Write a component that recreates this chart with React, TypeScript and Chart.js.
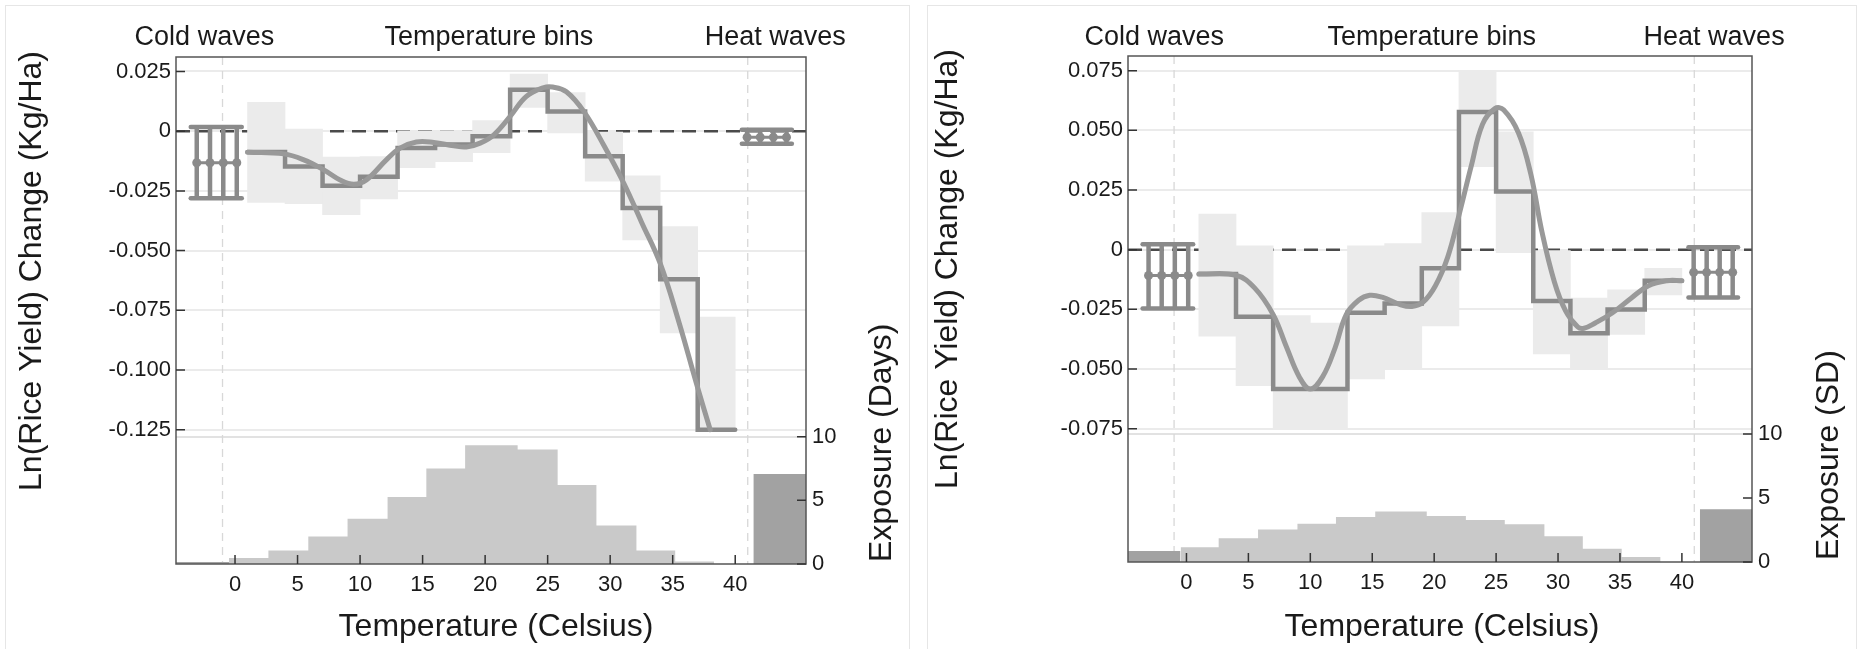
import React, { useEffect, useRef } from "react";
import { Chart, registerables } from "chart.js";
Chart.register(...registerables);

const FONT = '"Liberation Sans", Arial, Helvetica, sans-serif';

// ---------- shared axis data ----------
const binEdges = [1, 4, 7, 10, 13, 16, 19, 22, 25, 28, 31, 34, 37, 40];
const xTicks = [0, 5, 10, 15, 20, 25, 30, 35, 40];
const xMin = -4.72;
const xMax = 45.66;
const regionDividers = [-1, 41];
const topLabels = ["Cold waves", "Temperature bins", "Heat waves"];
const xTitle = "Temperature (Celsius)";
const yTitle = "Ln(Rice Yield) Change (Kg/Ha)";
const expTicks = [0, 5, 10];
const coldX = [-3.06, -2.0, -0.94, 0.14];
const coldCap = [-3.54, 0.54];
const heatX = [40.95, 42.0, 43.05, 44.1];
const heatCap = [40.53, 44.53];
const coldExpEdges = [xMin, -0.48];
const heatExpEdges = [41.45, xMax];

// ---------- Panel A : exposure in days ----------
const yTicksA = [0.025, 0, -0.025, -0.05, -0.075, -0.1, -0.125];
const stepA = [-0.0087, -0.0148, -0.0228, -0.0191, -0.007, -0.0056, -0.0021, 0.0174, 0.0083, -0.0105, -0.0322, -0.062, -0.125];
const ciLoA = [-0.0298, -0.0303, -0.035, -0.0284, -0.0153, -0.0128, -0.009, 0.01, -0.0007, -0.0209, -0.0455, -0.0845, -0.1255];
const ciHiA = [0.0121, 0.0009, -0.0108, -0.0106, 0.0002, 0.0003, 0.0044, 0.0239, 0.0162, 0.0, -0.0187, -0.0399, -0.0778];
const curveXA = [1, 3.9, 5.5, 7.1, 8.4, 9.5, 10.5, 12.1, 13.2, 14.5, 15.9, 17.5, 18.5, 19.6, 20.7, 22, 23.3, 24.7, 25.4, 26.5, 27.9, 29.5, 31.1, 32.5, 34, 35.5, 36.9, 38];
const curveYA = [-0.0088, -0.0095, -0.012, -0.0162, -0.0204, -0.0222, -0.0204, -0.012, -0.0071, -0.0045, -0.0047, -0.0061, -0.0066, -0.005, -0.0015, 0.0062, 0.0146, 0.0183, 0.0185, 0.0165, 0.0082, -0.006, -0.0219, -0.038, -0.0554, -0.08, -0.1057, -0.125];
const coldEstA = [-0.0132, -0.0132, -0.0132, -0.0132];
const coldLoA = [-0.0281, -0.0281, -0.0281, -0.0281];
const coldHiA = [0.0018, 0.0018, 0.0018, 0.0018];
const heatEstA = [-0.0025, -0.0025, -0.0025, -0.0025];
const heatLoA = [-0.0053, -0.0053, -0.0053, -0.0053];
const heatHiA = [0.0006, 0.0006, 0.0006, 0.0006];
const histEdgesA = [-0.48, 2.67, 5.86, 9.0, 12.2, 15.3, 18.4, 22.6, 25.8, 28.9, 32.1, 35.2, 38.3];
const histA = [0.48, 1.06, 2.16, 3.55, 5.26, 7.5, 9.32, 9.0, 6.2, 3.03, 1.07, 0.19];
const coldExpA = 0.15;
const heatExpA = 7.08;

// ---------- Panel B : exposure in SD ----------
const yTicksB = [0.075, 0.05, 0.025, 0, -0.025, -0.05, -0.075];
const stepB = [-0.0102, -0.0281, -0.0584, -0.0584, -0.0264, -0.0225, -0.0078, 0.0577, 0.0244, -0.0215, -0.035, -0.0251, -0.013];
const ciLoB = [-0.0362, -0.057, -0.075, -0.075, -0.0541, -0.0494, -0.0319, 0.0348, -0.0012, -0.0437, -0.0501, -0.0355, -0.0189];
const ciHiB = [0.0149, 0.0016, -0.0276, -0.0307, 0.0016, 0.0026, 0.0156, 0.0751, 0.0494, 0.0, -0.0203, -0.0168, -0.0078];
const curveXB = [1, 4, 5.5, 7, 8.1, 9.1, 10, 11, 12, 12.9, 13.9, 14.8, 15.8, 17.2, 18.2, 19.1, 20.1, 21.1, 22, 23, 23.9, 24.9, 25.6, 26.8, 27.8, 28.7, 29.7, 30.6, 31.6, 32.1, 33, 34.4, 35.9, 37.3, 38.8, 40];
const curveYB = [-0.0102, -0.0107, -0.016, -0.0272, -0.0411, -0.0532, -0.0584, -0.0532, -0.0411, -0.0272, -0.0212, -0.0191, -0.0199, -0.0229, -0.0238, -0.022, -0.0151, -0.003, 0.0144, 0.0352, 0.0525, 0.0591, 0.0586, 0.049, 0.0317, 0.0075, -0.0134, -0.0255, -0.0324, -0.0329, -0.0307, -0.0264, -0.0203, -0.0151, -0.013, -0.013];
const coldEstB = [-0.0108, -0.0108, -0.0108, -0.0108];
const coldLoB = [-0.0246, -0.0246, -0.0246, -0.0246];
const coldHiB = [0.0023, 0.0023, 0.0023, 0.0023];
const heatEstB = [-0.0095, -0.0095, -0.0095, -0.0095];
const heatLoB = [-0.02, -0.02, -0.02, -0.02];
const heatHiB = [0.001, 0.001, 0.001, 0.001];
const histEdgesB = [-0.47, 2.6, 5.78, 8.96, 12.07, 15.24, 19.4, 22.56, 25.7, 28.9, 32.0, 35.14, 38.28];
const histB = [1.15, 1.85, 2.55, 2.98, 3.52, 3.94, 3.6, 3.28, 2.96, 2.01, 1.04, 0.39];
const coldExpB = 0.86;
const heatExpB = 4.12;

type PanelCfg = {
  left: number;
  areaTop: number;
  yAxisW: number;
  y2AxisW: number;
  xAxisH: number;
  yMin: number;
  yMax: number;
  expMax: number;
  yTicks: number[];
  step: number[];
  ciLo: number[];
  ciHi: number[];
  curveX: number[];
  curveY: number[];
  coldEst: number[];
  coldLo: number[];
  coldHi: number[];
  heatEst: number[];
  heatLo: number[];
  heatHi: number[];
  histEdges: number[];
  hist: number[];
  coldExp: number;
  heatExp: number;
  expTitle: string;
  yTitleX: number;
  yTitleY: number;
  expTitleX: number;
  expTitleY: number;
  xTitleX: number;
  xTitleY: number;
  topY: number;
  topCenters: number[];
};

const panelA: PanelCfg = {
  left: 0, areaTop: 57, yAxisW: 176, y2AxisW: 125, xAxisH: 85,
  yMin: -0.18124, yMax: 0.03107, expMax: 39.83,
  yTicks: yTicksA, step: stepA, ciLo: ciLoA, ciHi: ciHiA, curveX: curveXA, curveY: curveYA,
  coldEst: coldEstA, coldLo: coldLoA, coldHi: coldHiA, heatEst: heatEstA, heatLo: heatLoA, heatHi: heatHiA,
  histEdges: histEdgesA, hist: histA, coldExp: coldExpA, heatExp: heatExpA,
  expTitle: "Exposure (Days)",
  yTitleX: 32, yTitleY: 271, expTitleX: 882, expTitleY: 562, xTitleX: 496, xTitleY: 627,
  topY: 37.5, topCenters: [-2.45, 20.3, 43.2],
};

const panelB: PanelCfg = {
  left: 931, areaTop: 56, yAxisW: 197, y2AxisW: 110, xAxisH: 87,
  yMin: -0.13086, yMax: 0.08116, expMax: 39.55,
  yTicks: yTicksB, step: stepB, ciLo: ciLoB, ciHi: ciHiB, curveX: curveXB, curveY: curveYB,
  coldEst: coldEstB, coldLo: coldLoB, coldHi: coldHiB, heatEst: heatEstB, heatLo: heatLoB, heatHi: heatHiB,
  histEdges: histEdgesB, hist: histB, coldExp: coldExpB, heatExp: heatExpB,
  expTitle: "Exposure (SD)",
  yTitleX: 17, yTitleY: 269, expTitleX: 898, expTitleY: 560, xTitleX: 511, xTitleY: 627,
  topY: 37.5, topCenters: [-2.6, 19.8, 42.6],
};

const LINE = "#8a8a8a";
const CURVE = "#999999";
const CI = "#ebebeb";
const HIST = "#c9c9c9";
const HIST_DARK = "#a2a2a2";
const TEXT = "#1a1a1a";
const FRAME = "#555555";

function lineDs(data: { x: number; y: number }[], extra: any = {}) {
  return {
    type: "line",
    data,
    pointRadius: 0,
    fill: false,
    yAxisID: "y",
    borderColor: LINE,
    borderWidth: 4.5,
    ...extra,
  };
}

function errorGroup(xs: number[], cap: number[], est: number[], lo: number[], hi: number[]) {
  const ds: any[] = [];
  xs.forEach((x, i) => {
    ds.push(lineDs([{ x, y: lo[i] }, { x, y: hi[i] }], { order: 5, borderCapStyle: "butt" }));
  });
  const hiMax = Math.max(...hi);
  const loMin = Math.min(...lo);
  ds.push(lineDs([{ x: cap[0], y: hiMax }, { x: cap[1], y: hiMax }], { order: 5, borderCapStyle: "round" }));
  ds.push(lineDs([{ x: cap[0], y: loMin }, { x: cap[1], y: loMin }], { order: 5, borderCapStyle: "round" }));
  ds.push(lineDs(xs.map((x, i) => ({ x, y: est[i] })), { order: 4, borderWidth: 3 }));
  ds.push({
    type: "line",
    data: xs.map((x, i) => ({ x, y: est[i] })),
    showLine: false,
    pointRadius: 4.5,
    pointBackgroundColor: LINE,
    pointBorderWidth: 0,
    yAxisID: "y",
    order: 3,
  });
  return ds;
}

function buildDatasets(p: PanelCfg) {
  const ds: any[] = [];
  // zero reference line
  ds.push(lineDs([{ x: xMin, y: 0 }, { x: xMax, y: 0 }], {
    borderColor: "#4a4a4a", borderWidth: 2.4, borderDash: [14, 8], order: 30,
  }));
  // exposure histogram (horizontal first, then vertical => 'before')
  const histPts = p.histEdges.map((e, i) => ({ x: e, y: p.hist[Math.min(i, p.hist.length - 1)] }));
  ds.push({
    type: "line", data: histPts, stepped: "before", fill: "origin", backgroundColor: HIST,
    borderColor: "rgba(0,0,0,0)", borderWidth: 0, pointRadius: 0, yAxisID: "y2", order: 25,
  });
  ds.push({
    type: "line", data: coldExpEdges.map((x) => ({ x, y: p.coldExp })), fill: "origin",
    backgroundColor: HIST_DARK, borderColor: "rgba(0,0,0,0)", borderWidth: 0, pointRadius: 0, yAxisID: "y2", order: 25,
  });
  ds.push({
    type: "line", data: heatExpEdges.map((x) => ({ x, y: p.heatExp })), fill: "origin",
    backgroundColor: HIST_DARK, borderColor: "rgba(0,0,0,0)", borderWidth: 0, pointRadius: 0, yAxisID: "y2", order: 25,
  });
  // confidence boxes
  ds.push({
    type: "bar",
    data: p.ciLo.map((lo, i) => ({ x: (binEdges[i] + binEdges[i + 1]) / 2, y: [lo, p.ciHi[i]] })),
    backgroundColor: CI, borderWidth: 0, barPercentage: 1, categoryPercentage: 1, grouped: false,
    yAxisID: "y", order: 20,
  });
  // step estimates
  const stepPts = binEdges.map((e, i) => ({ x: e, y: p.step[Math.min(i, p.step.length - 1)] }));
  ds.push(lineDs(stepPts, { stepped: "before", order: 10, borderCapStyle: "round", borderJoinStyle: "miter" }));
  // smooth fit
  ds.push(lineDs(p.curveX.map((x, i) => ({ x, y: p.curveY[i] })), {
    borderColor: CURVE, borderWidth: 5, tension: 0.4, order: 9, borderCapStyle: "round",
  }));
  // cold & heat waves
  ds.push(...errorGroup(coldX, coldCap, p.coldEst, p.coldLo, p.coldHi));
  ds.push(...errorGroup(heatX, heatCap, p.heatEst, p.heatLo, p.heatHi));
  return ds;
}

function makeDecor(p: PanelCfg) {
  return {
    id: "decor",
    beforeDatasetsDraw(chart: any) {
      const { ctx, chartArea: a, scales } = chart;
      ctx.save();
      ctx.strokeStyle = "#d8d8d8";
      ctx.lineWidth = 1.3;
      ctx.setLineDash([8, 6]);
      for (const v of regionDividers) {
        const px = scales.x.getPixelForValue(v);
        ctx.beginPath();
        ctx.moveTo(px, a.top);
        ctx.lineTo(px, a.bottom);
        ctx.stroke();
      }
      ctx.restore();
    },
    afterDraw(chart: any) {
      const { ctx, chartArea: a, scales } = chart;
      ctx.save();
      // frame
      ctx.strokeStyle = FRAME;
      ctx.lineWidth = 1.5;
      ctx.strokeRect(a.left, a.top, a.right - a.left, a.bottom - a.top);
      // inward ticks
      ctx.strokeStyle = "#333333";
      ctx.lineWidth = 1.5;
      ctx.beginPath();
      for (const v of xTicks) {
        const px = scales.x.getPixelForValue(v);
        ctx.moveTo(px, a.bottom);
        ctx.lineTo(px, a.bottom - 9);
      }
      for (const v of p.yTicks) {
        const py = scales.y.getPixelForValue(v);
        ctx.moveTo(a.left, py);
        ctx.lineTo(a.left + 9, py);
      }
      for (const v of expTicks) {
        const py = scales.y2.getPixelForValue(v);
        ctx.moveTo(a.right, py);
        ctx.lineTo(a.right - 9, py);
      }
      ctx.stroke();
      // texts
      ctx.fillStyle = TEXT;
      ctx.textBaseline = "middle";
      ctx.textAlign = "center";
      ctx.font = `27px ${FONT}`;
      topLabels.forEach((t, i) => {
        ctx.fillText(t, scales.x.getPixelForValue(p.topCenters[i]), p.topY);
      });
      ctx.font = `32px ${FONT}`;
      ctx.fillText(xTitle, p.xTitleX, p.xTitleY);
      ctx.save();
      ctx.translate(p.yTitleX, p.yTitleY);
      ctx.rotate(-Math.PI / 2);
      ctx.fillText(yTitle, 0, 0);
      ctx.restore();
      ctx.save();
      ctx.translate(p.expTitleX, p.expTitleY);
      ctx.rotate(-Math.PI / 2);
      ctx.textAlign = "left";
      ctx.fillText(p.expTitle, 0, 0);
      ctx.restore();
      ctx.restore();
    },
  };
}

function buildConfig(p: PanelCfg): any {
  const tickFont = { family: FONT, size: 22 };
  return {
    type: "line",
    data: { datasets: buildDatasets(p) },
    options: {
      animation: false,
      responsive: false,
      maintainAspectRatio: false,
      events: [],
      layout: { padding: { top: p.areaTop, left: 0, right: 0, bottom: 0 } },
      plugins: { legend: { display: false }, tooltip: { enabled: false }, title: { display: false } },
      scales: {
        x: {
          type: "linear", min: xMin, max: xMax, offset: false,
          grid: { display: false, offset: false, drawTicks: false },
          border: { display: false },
          afterBuildTicks: (s: any) => { s.ticks = xTicks.map((v) => ({ value: v })); },
          afterFit: (s: any) => { s.height = p.xAxisH; },
          ticks: { autoSkip: false, maxRotation: 0, minRotation: 0, padding: 8, font: tickFont, color: TEXT, callback: (v: any) => String(v) },
        },
        y: {
          type: "linear", position: "left", min: p.yMin, max: p.yMax,
          grid: { color: "#ebebeb", lineWidth: 2, drawTicks: false },
          border: { display: false },
          afterBuildTicks: (s: any) => { s.ticks = p.yTicks.map((v) => ({ value: v })); },
          afterFit: (s: any) => { s.width = p.yAxisW; },
          ticks: { padding: 5, font: tickFont, color: TEXT, autoSkip: false, callback: (v: any) => (Math.abs(v) < 1e-9 ? "0" : Number(v).toFixed(3)) },
        },
        y2: {
          type: "linear", position: "right", min: 0, max: p.expMax,
          grid: {
            color: (c: any) => (c.tick && c.tick.value === 10 ? "#e2e2e2" : "rgba(0,0,0,0)"),
            lineWidth: 2, drawTicks: false,
          },
          border: { display: false },
          afterBuildTicks: (s: any) => { s.ticks = expTicks.map((v) => ({ value: v })); },
          afterFit: (s: any) => { s.width = p.y2AxisW; },
          ticks: { padding: 6, font: tickFont, color: TEXT, autoSkip: false, callback: (v: any) => String(v) },
        },
      },
    },
    plugins: [makeDecor(p)],
  };
}

function Panel({ p }: { p: PanelCfg }) {
  const ref = useRef<HTMLCanvasElement>(null);
  useEffect(() => {
    const chart = new Chart(ref.current as HTMLCanvasElement, buildConfig(p));
    return () => chart.destroy();
  }, []);
  return (
    <canvas
      ref={ref}
      width={931}
      height={649}
      style={{ position: "absolute", left: p.left, top: 0, width: 931, height: 649 }}
    />
  );
}

export default function App() {
  return (
    <div style={{ position: "fixed", left: 0, top: 0, width: 1862, height: 649, background: "#fff", overflow: "hidden" }}>
      <div style={{ position: "absolute", left: 5, top: 5, width: 903, height: 700, border: "1px solid #e6e6e6" }} />
      <div style={{ position: "absolute", left: 927, top: 5, width: 928, height: 700, border: "1px solid #e6e6e6" }} />
      <Panel p={panelA} />
      <Panel p={panelB} />
    </div>
  );
}
